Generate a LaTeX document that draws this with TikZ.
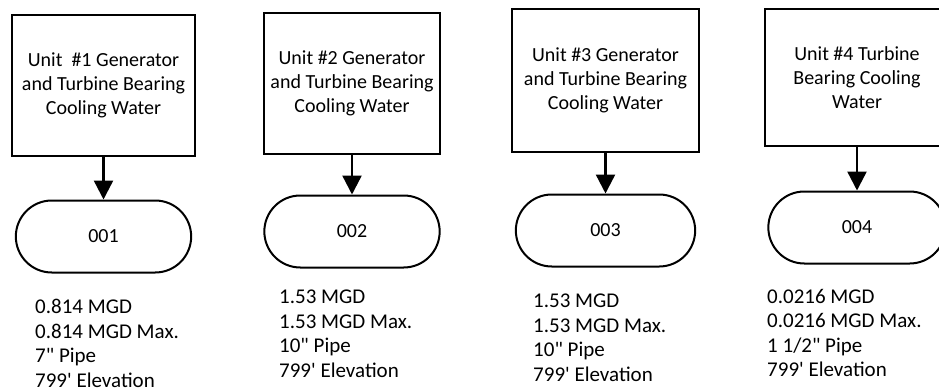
\documentclass[tikz,border=0pt]{standalone}
\usepackage{fontspec}
\setmainfont{Carlito}
\usepackage{tikz}
\usetikzlibrary{arrows.meta, positioning, shapes.misc}

\begin{document}
\begin{tikzpicture}[
    x=1pt, y=-1pt,
    % Styles
    unitbox/.style={draw, line width=2pt, align=center, inner sep=2pt, font=\fontsize{20}{24}\selectfont},
    outfall/.style={draw, rounded rectangle, line width=2pt, minimum width=182pt, minimum height=72pt, font=\fontsize{20}{22}\selectfont},
    flowtext/.style={align=left, anchor=north west, inner sep=0pt, font=\fontsize{21}{24.5}\selectfont},
    flowarrow/.style={-{Triangle[width=19pt,length=19pt]}, line width=2.4pt}
]
    \useasboundingbox (0,0) rectangle (939,391);

    % Unit boxes (text sits a little below the middle)
    \node[unitbox, minimum width=183pt, minimum height=141pt] (unit1) at (103.5,85) {\\[-10pt]Unit\ \ \#1 Generator\\and Turbine Bearing\\Cooling Water};
    \node[unitbox, minimum width=176pt, minimum height=141pt] (unit2) at (352,83.5) {\\[-10pt]Unit \#2 Generator\\and Turbine Bearing\\Cooling Water};
    \node[unitbox, minimum width=187pt, minimum height=143pt] (unit3) at (605.5,80.5) {\\[-10pt]Unit \#3 Generator\\and Turbine Bearing\\Cooling Water};
    \node[unitbox, minimum width=184pt, minimum height=137pt] (unit4) at (857,77.5) {\\[-10pt]Unit \#4 Turbine\\Bearing Cooling\\Water};

    % Outfalls
    \node[outfall] (out1) at (103.5,236.5) {001};
    \node[outfall] (out2) at (352,231.5) {002};
    \node[outfall, minimum width=186pt] (out3) at (605.5,230.5) {003};
    \node[outfall, minimum width=184pt] (out4) at (857,227.5) {004};

    % Arrows
    \draw[flowarrow] (unit1.south) -- (out1.north);
    \draw[flowarrow] (unit2.south) -- (out2.north);
    \draw[flowarrow] (unit3.south) -- (out3.north);
    \draw[flowarrow] (unit4.south) -- (out4.north);

    % Flow data
    \node[flowtext] (data1) at (35,299) {0.814 MGD\\0.814 MGD Max.\\7\textquotedbl{} Pipe\\799\textquotesingle{} Elevation};
    \node[flowtext] (data2) at (279,290) {1.53 MGD\\1.53 MGD Max.\\10\textquotedbl{} Pipe\\799\textquotesingle{} Elevation};
    \node[flowtext] (data3) at (533,294) {1.53 MGD\\1.53 MGD Max.\\10\textquotedbl{} Pipe\\799\textquotesingle{} Elevation};
    \node[flowtext] (data4) at (767,289) {0.0216 MGD\\0.0216 MGD Max.\\1 1/2\textquotedbl{} Pipe\\799\textquotesingle{} Elevation};
\end{tikzpicture}
\end{document}
